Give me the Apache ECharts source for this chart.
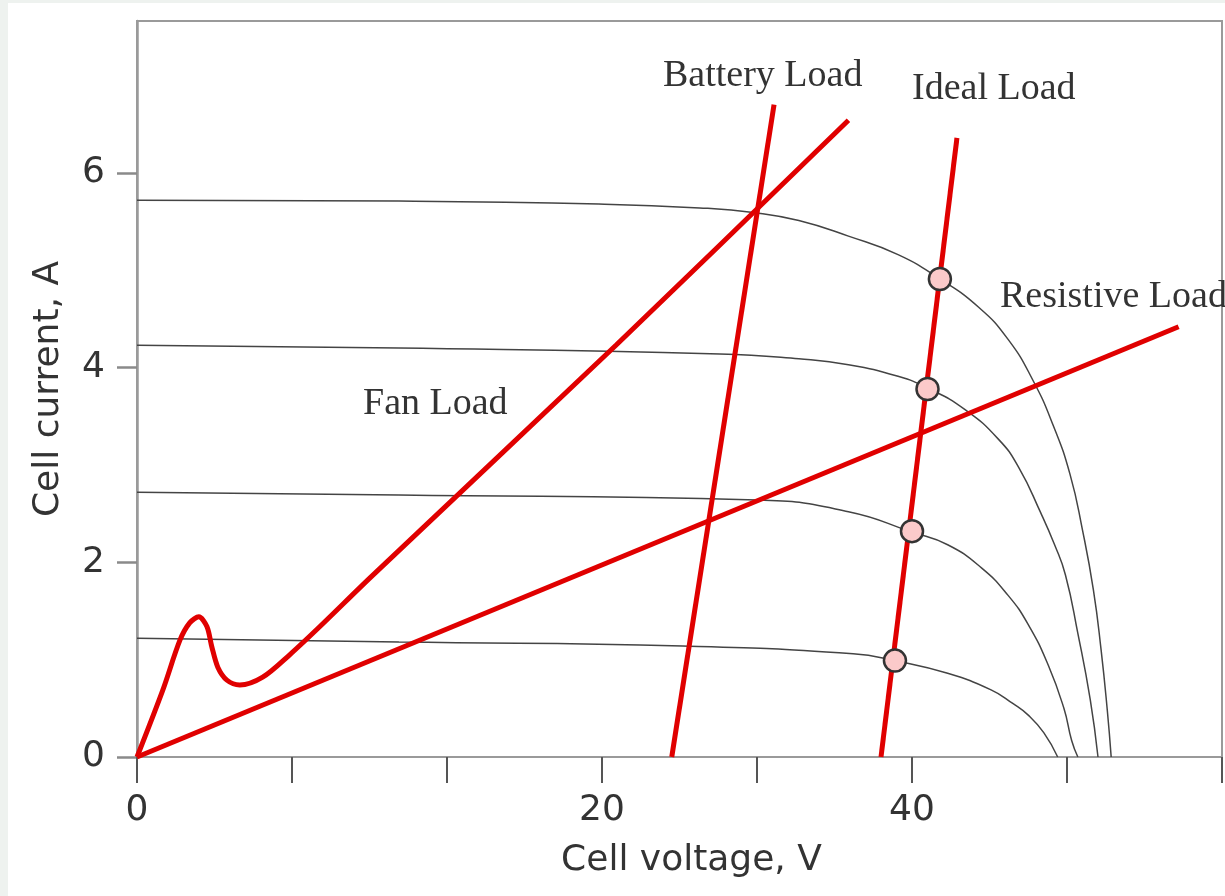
<!DOCTYPE html>
<html>
<head>
<meta charset="utf-8">
<script src="https://cdn.jsdelivr.net/npm/echarts@6/dist/echarts.min.js"></script>
<style>
  html, body { margin: 0; padding: 0; background: #eef2ef; }
  #main { position: absolute; left: 8px; top: 3px; width: 1217px; height: 893px; background: #fff; }
</style>
</head>
<body>
<div id="main"></div>
<script>
// x 轴按刻度计 (每格 10)，刻度标签只标 0 / 20 / 40
var xTickLabels = { 0: '0', 30: '20', 50: '40' };
var yTickLabels = [0, 2, 4, 6];

// 四条 I-V 曲线 (不同光照)
var ivCurve1 = [[0, 5.72], [16.9, 5.71], [29.8, 5.68], [36.3, 5.64], [39.9, 5.59], [42.7, 5.51], [45.9, 5.35],
  [49.1, 5.16], [51.8, 4.91], [54.3, 4.62], [56.2, 4.29], [57.8, 3.87], [59.1, 3.41], [60.2, 2.90],
  [61.0, 2.33], [61.7, 1.72], [62.2, 1.10], [62.6, 0.48], [62.85, 0]];
var ivCurve2 = [[0, 4.23], [16.9, 4.20], [37.6, 4.14], [42.7, 4.09], [45.9, 4.03], [49.1, 3.91], [51.0, 3.79],
  [53.4, 3.57], [55.6, 3.26], [56.9, 2.97], [58.3, 2.51], [59.2, 2.18], [59.9, 1.87], [60.7, 1.27],
  [61.5, 0.59], [62.0, 0]];
var ivCurve3 = [[0, 2.72], [16.9, 2.69], [40.0, 2.64], [45.9, 2.52], [50.0, 2.31], [52.3, 2.18], [54.5, 1.94],
  [56.2, 1.66], [57.5, 1.36], [58.8, 0.94], [59.8, 0.50], [60.3, 0.17], [60.7, 0]];
var ivCurve4 = [[0, 1.22], [16.9, 1.18], [35.2, 1.14], [46.2, 1.06], [48.9, 0.99], [52.3, 0.86], [55.1, 0.69],
  [56.5, 0.55], [57.5, 0.43], [58.5, 0.25], [59.4, 0]];

// 负载线
var batteryLoad = [[34.5, 0], [41.1, 6.70]];
var idealLoad = [[48.0, 0], [52.9, 6.36]];
var resistiveLoad = [[0, 0], [67.2, 4.42]];
var fanLoad = [[0, 0], [1.67, 0.69], [2.77, 1.20], [3.41, 1.38], [3.99, 1.44], [4.51, 1.34], [4.83, 1.13],
  [5.22, 0.92], [5.80, 0.79], [6.63, 0.74], [8.11, 0.82], [9.85, 1.05], [11.8, 1.34], [15.1, 1.85],
  [30.9, 4.23], [45.9, 6.54]];

// 最大功率点
var mppPoints = [[51.8, 4.91], [51.0, 3.78], [50.0, 2.32], [48.9, 0.99]];

var myChart = echarts.init(document.getElementById('main'));

var axisFont = { fontFamily: 'DejaVu Sans', fontSize: 36, color: '#333' };
var serif = '38px "Liberation Serif"';

function ivSeries(data) {
  return {
    type: 'line', data: data, smooth: 0.5, showSymbol: false, silent: true, z: 2,
    lineStyle: { color: '#444', width: 1.5 }
  };
}
function redSeries(data, smooth) {
  return {
    type: 'line', data: data, smooth: smooth, showSymbol: false, silent: true, z: 3,
    lineStyle: { color: '#e00000', width: 5 }
  };
}
function label(text, x, y) {
  return {
    type: 'text', x: x - 8, y: y - 3, z: 10,
    style: { text: text, font: serif, fill: '#333', align: 'left', verticalAlign: 'middle' }
  };
}

var option = {
  animation: false,
  grid: { left: 129, top: 18, right: 1, bottom: 139, show: true, borderColor: '#9a9a9a', borderWidth: 2 },
  xAxis: {
    type: 'value', min: 0, max: 70, interval: 10,
    name: 'Cell voltage, V', nameLocation: 'middle', nameGap: 86,
    nameTextStyle: { fontFamily: 'DejaVu Sans', fontSize: 36, color: '#333', padding: [0, 0, 0, 24] },
    axisLine: { lineStyle: { color: '#9a9a9a', width: 2 } },
    axisTick: { length: 26, lineStyle: { color: '#555', width: 2 } },
    axisLabel: Object.assign({ margin: 36, formatter: function (v) { return xTickLabels[v] || ''; } }, axisFont),
    splitLine: { show: false }
  },
  yAxis: {
    type: 'value', min: 0, max: 7.56, interval: 2,
    name: 'Cell current, A', nameLocation: 'middle', nameGap: 70, nameRotate: 90,
    nameTextStyle: { fontFamily: 'DejaVu Sans', fontSize: 36, color: '#333' },
    axisLine: { lineStyle: { color: '#9a9a9a', width: 2.5 } },
    axisTick: { length: 20, customValues: yTickLabels, lineStyle: { color: '#8a8a8a', width: 2.5 } },
    axisLabel: Object.assign({
      margin: 32, customValues: yTickLabels,
      formatter: function (v) { return String(v); }
    }, axisFont),
    splitLine: { show: false }
  },
  series: [
    ivSeries(ivCurve1), ivSeries(ivCurve2), ivSeries(ivCurve3), ivSeries(ivCurve4),
    redSeries(batteryLoad, false), redSeries(idealLoad, false), redSeries(resistiveLoad, false),
    redSeries(fanLoad, 0.3),
    {
      type: 'scatter', data: mppPoints, symbolSize: 22, z: 5, silent: true,
      itemStyle: { color: '#fbcaca', borderColor: '#333', borderWidth: 2.5, opacity: 1 }
    }
  ],
  graphic: [
    label('Battery Load', 663, 76),
    label('Ideal Load', 912, 89),
    label('Resistive Load', 1000, 297),
    label('Fan Load', 363, 404)
  ]
};

myChart.setOption(option);
</script>
</body>
</html>
